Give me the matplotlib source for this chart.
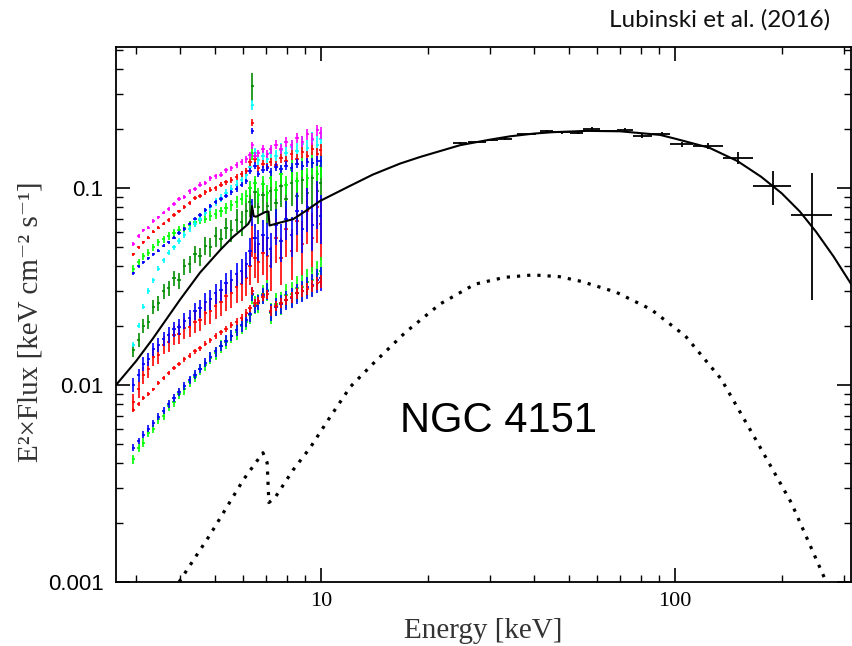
import matplotlib.pyplot as plt
import numpy as np
from matplotlib.ticker import LogLocator, NullFormatter

# energy grid of the low-energy (XMM / Suzaku) spectra, keV
e_soft = [2.95, 3.05, 3.15, 3.25, 3.36, 3.47, 3.59, 3.71, 3.84, 3.97,
          4.11, 4.25, 4.40, 4.55, 4.71, 4.87, 5.04, 5.21, 5.39, 5.58,
          5.77, 5.97, 6.15, 6.30, 6.40, 6.50, 6.65, 6.85, 7.05, 7.20,
          7.45, 7.70, 7.95, 8.25, 8.55, 8.85, 9.15, 9.45, 9.75, 9.98]
# how much the error bars grow with energy (counts drop off)
err_growth = [1.0, 1.0, 1.0, 1.0, 1.0, 1.05, 1.05, 1.1, 1.1, 1.15,
              1.2, 1.2, 1.25, 1.3, 1.35, 1.4, 1.45, 1.5, 1.55, 1.6,
              1.7, 1.8, 1.9, 2.0, 2.0, 2.1, 2.2, 2.3, 2.4, 2.5,
              2.6, 2.7, 2.8, 2.9, 3.0, 3.1, 3.2, 3.3, 3.4, 3.5]

# E^2 x flux of each spectrum on that grid
magenta_f = [0.052, 0.057, 0.061, 0.063, 0.068, 0.071, 0.075, 0.078, 0.083, 0.088,
             0.090, 0.096, 0.099, 0.104, 0.106, 0.112, 0.115, 0.117, 0.123, 0.126,
             0.131, 0.136, 0.140, 0.147, 0.165, 0.146, 0.150, 0.158, 0.149, 0.157,
             0.166, 0.158, 0.172, 0.165, 0.180, 0.172, 0.188, 0.178, 0.196, 0.190]
red_hi_f = [0.046, 0.050, 0.053, 0.056, 0.060, 0.063, 0.066, 0.069, 0.073, 0.076,
            0.080, 0.084, 0.089, 0.091, 0.095, 0.098, 0.100, 0.104, 0.107, 0.110,
            0.114, 0.118, 0.122, 0.135, 0.215, 0.140, 0.126, 0.133, 0.128, 0.136,
            0.131, 0.142, 0.137, 0.148, 0.140, 0.152, 0.145, 0.158, 0.149, 0.156]
blue_hi_f = [0.037, 0.040, 0.042, 0.044, 0.046, 0.048, 0.051, 0.053, 0.056, 0.059,
             0.062, 0.066, 0.070, 0.073, 0.077, 0.081, 0.085, 0.088, 0.091, 0.095,
             0.099, 0.104, 0.108, 0.122, 0.195, 0.130, 0.118, 0.124, 0.127, 0.121,
             0.128, 0.125, 0.130, 0.127, 0.133, 0.130, 0.135, 0.134, 0.137, 0.137]
cyan_f = [0.016, 0.020, 0.025, 0.030, 0.034, 0.039, 0.043, 0.047, 0.050, 0.054,
          0.058, 0.062, 0.066, 0.070, 0.075, 0.080, 0.085, 0.089, 0.094, 0.099,
          0.104, 0.110, 0.116, 0.128, 0.265, 0.150, 0.138, 0.146, 0.140, 0.150,
          0.145, 0.156, 0.150, 0.162, 0.155, 0.168, 0.160, 0.175, 0.166, 0.178]
lime_hi_f = [0.039, 0.042, 0.045, 0.047, 0.050, 0.053, 0.055, 0.057, 0.059, 0.061,
             0.063, 0.065, 0.067, 0.069, 0.070, 0.072, 0.074, 0.076, 0.079, 0.082,
             0.085, 0.088, 0.091, 0.100, 0.150, 0.106, 0.092, 0.105, 0.094, 0.112,
             0.098, 0.118, 0.104, 0.124, 0.108, 0.130, 0.112, 0.134, 0.118, 0.130]
dgreen_f = [0.015, 0.017, 0.020, 0.021, 0.025, 0.026, 0.030, 0.031, 0.035, 0.034,
            0.040, 0.041, 0.046, 0.045, 0.051, 0.050, 0.057, 0.055, 0.063, 0.061,
            0.069, 0.067, 0.076, 0.085, 0.330, 0.095, 0.080, 0.092, 0.081, 0.096,
            0.084, 0.102, 0.088, 0.106, 0.091, 0.110, 0.094, 0.112, 0.097, 0.106]
blue_mid_f = [0.0100, 0.0112, 0.0128, 0.0135, 0.0152, 0.0160, 0.0172, 0.0180, 0.0192, 0.0198,
              0.0212, 0.0220, 0.0238, 0.0245, 0.0265, 0.0272, 0.0292, 0.0305, 0.0330, 0.0340,
              0.0368, 0.0380, 0.0410, 0.0480, 0.0760, 0.0560, 0.0520, 0.0580, 0.0560, 0.0490,
              0.0650, 0.0540, 0.0700, 0.0580, 0.0760, 0.0620, 0.0800, 0.0650, 0.0850, 0.0720]
red_mid_f = [0.0082, 0.0095, 0.0112, 0.0120, 0.0138, 0.0142, 0.0160, 0.0165, 0.0180, 0.0182,
             0.0195, 0.0198, 0.0210, 0.0215, 0.0232, 0.0238, 0.0252, 0.0265, 0.0282, 0.0292,
             0.0315, 0.0325, 0.0350, 0.0400, 0.0560, 0.0440, 0.0420, 0.0470, 0.0450, 0.0400,
             0.0560, 0.0440, 0.0620, 0.0480, 0.0680, 0.0520, 0.0760, 0.0560, 0.0800, 0.0660]
red_lo_f = [0.0075, 0.0080, 0.0086, 0.0090, 0.0095, 0.0102, 0.0108, 0.0115, 0.0122, 0.0128,
            0.0135, 0.0141, 0.0148, 0.0154, 0.0162, 0.0169, 0.0177, 0.0185, 0.0193, 0.0201,
            0.0210, 0.0220, 0.0232, 0.0245, 0.0300, 0.0262, 0.0268, 0.0280, 0.0290, 0.0238,
            0.0252, 0.0262, 0.0270, 0.0280, 0.0292, 0.0300, 0.0308, 0.0318, 0.0328, 0.0335]
blue_lo_f = [0.0048, 0.0052, 0.0056, 0.0060, 0.0064, 0.0069, 0.0074, 0.0080, 0.0086, 0.0092,
             0.0099, 0.0106, 0.0113, 0.0121, 0.0130, 0.0139, 0.0148, 0.0158, 0.0168, 0.0178,
             0.0190, 0.0201, 0.0213, 0.0228, 0.0290, 0.0252, 0.0262, 0.0285, 0.0300, 0.0235,
             0.0250, 0.0258, 0.0270, 0.0278, 0.0292, 0.0300, 0.0315, 0.0322, 0.0340, 0.0350]
lime_lo_f = [0.0042, 0.0048, 0.0051, 0.0057, 0.0060, 0.0067, 0.0070, 0.0078, 0.0082, 0.0090,
             0.0095, 0.0104, 0.0110, 0.0120, 0.0126, 0.0137, 0.0145, 0.0157, 0.0165, 0.0177,
             0.0186, 0.0200, 0.0210, 0.0226, 0.0285, 0.0255, 0.0260, 0.0290, 0.0305, 0.0232,
             0.0258, 0.0262, 0.0285, 0.0290, 0.0310, 0.0315, 0.0335, 0.0340, 0.0365, 0.0380]

# INTEGRAL/ISGRI points: centre, bin low, bin high, value, error
isgri_e = [24.7, 27.6, 30.4, 33.0, 38.0, 43.5, 48.0, 53.2, 58.3, 64.7, 72.3, 80.7, 91.9, 104.6, 124, 150.6, 189, 244]
isgri_lo = [23.6, 26.0, 29.4, 31.6, 35.8, 41.6, 45.2, 50.5, 55.0, 61.4, 68.5, 76.0, 86.1, 96.8, 112.4, 136.6, 166, 212.6]
isgri_hi = [25.9, 29.2, 31.6, 34.6, 40.5, 45.2, 50.5, 55.0, 61.4, 68.5, 76.0, 86.1, 96.8, 112.4, 136.6, 166, 212.6, 277.5]
isgri_f = [0.169, 0.172, 0.175, 0.178, 0.187, 0.194, 0.192, 0.190, 0.200, 0.195, 0.198, 0.183, 0.188, 0.167, 0.164, 0.142, 0.102, 0.073]
isgri_err = [0.002, 0.002, 0.002, 0.002, 0.002, 0.003, 0.003, 0.003, 0.003, 0.003, 0.004, 0.004, 0.005, 0.005, 0.006, 0.010, 0.020, 0.046]

# total model (solid)
model_e = [2.635, 3.0, 3.34, 4.0, 4.55, 5.19, 5.64, 6.0, 6.22, 6.32,
           6.38, 6.45, 6.55, 6.95, 7.1, 7.15, 7.6, 8.34, 9.0, 9.94,
           12.0, 14.0, 16.7, 19.1, 24.7, 30.0, 34.2, 40.0, 45.0, 56.4,
           70.0, 90.7, 100, 125, 150, 175, 200, 225, 250, 280, 316]
model_f = [0.0100, 0.0132, 0.0171, 0.0272, 0.0372, 0.0485, 0.0565, 0.0620, 0.0656, 0.0690,
           0.0810, 0.0720, 0.0715, 0.0755, 0.0760, 0.0645, 0.0665, 0.0695, 0.0760, 0.0860,
           0.102, 0.117, 0.133, 0.144, 0.165, 0.176, 0.183, 0.189, 0.192, 0.195,
           0.194, 0.186, 0.178, 0.160, 0.137, 0.114, 0.094, 0.076, 0.060, 0.045, 0.032]

# reflection component (dotted)
refl_e = [3.97, 4.85, 6.03, 6.85, 7.04, 7.12, 7.41, 8.34, 9.31, 10.5, 12.1, 14.0, 17.3,
          21.7, 27.2, 33.0, 39.7, 47.0, 54.2, 68.1, 85.5, 107, 135, 169, 213, 264]
refl_f = [0.00100, 0.00173, 0.00330, 0.00453, 0.00403, 0.00253, 0.00268, 0.00371, 0.00480,
          0.0067, 0.0098, 0.0128, 0.0185, 0.0258, 0.0325, 0.0352, 0.0362, 0.0355, 0.0336,
          0.0296, 0.0242, 0.0177, 0.0107, 0.00528, 0.00252, 0.00105]

serif = ['Liberation Serif', 'DejaVu Serif']
sans = ['Liberation Sans', 'DejaVu Sans']

fig = plt.figure(figsize=(8.52, 6.46), dpi=100)
ax = fig.add_axes([0.1362, 0.0991, 0.8627, 0.8282])
ax.set_xscale('log')
ax.set_yscale('log')
ax.set_xlim(2.635, 314)
ax.set_ylim(0.001, 0.52)

# (flux, colour, relative error at 3 keV) in drawing order
spectra = [
    (dgreen_f, '#008c00', 0.08),
    (lime_hi_f, '#00ff00', 0.04),
    (cyan_f, '#00ffff', 0.03),
    (red_mid_f, '#ff0000', 0.10),
    (blue_mid_f, '#0000ff', 0.08),
    (red_hi_f, '#ff0000', 0.02),
    (blue_hi_f, '#0000ff', 0.018),
    (magenta_f, '#ff00ff', 0.02),
    (lime_lo_f, '#00ff00', 0.05),
    (blue_lo_f, '#0000ff', 0.04),
    (red_lo_f, '#ff0000', 0.022),
]
e = np.array(e_soft)
grow = np.array(err_growth)
for flux, col, frac in spectra:
    f = np.array(flux)
    ax.errorbar(e, f, xerr=e * 0.011, yerr=f * frac * grow, fmt='none',
                ecolor=col, elinewidth=1.2, capsize=0, zorder=2)

ax.plot(refl_e, refl_f, color='black', lw=2.3, linestyle=(0, (1, 2.2)), zorder=3)
ax.plot(model_e, model_f, color='black', lw=1.5, zorder=4)

ie = np.array(isgri_e)
ax.errorbar(ie, isgri_f, xerr=[ie - np.array(isgri_lo), np.array(isgri_hi) - ie],
            yerr=isgri_err, fmt='none', ecolor='black', elinewidth=1.3, capsize=0, zorder=4)

# axes / ticks
for s in ax.spines.values():
    s.set_linewidth(1.3)
ax.tick_params(which='both', direction='in', top=True, right=True, colors='black')
ax.tick_params(which='major', length=10, width=1.2, pad=7)
ax.tick_params(which='minor', length=5, width=1.0)
ax.tick_params(axis='y', which='major', pad=9)
ax.set_xticks([10, 100])
ax.set_xticklabels(['10', '100'], family=serif, fontsize=16)
ax.xaxis.set_minor_locator(LogLocator(base=10, subs=range(2, 10)))
ax.xaxis.set_minor_formatter(NullFormatter())
ax.set_yticks([0.001, 0.01, 0.1])
ax.set_yticklabels(['0.001', '0.01', '0.1'], family=sans, fontsize=16)
ax.yaxis.set_minor_locator(LogLocator(base=10, subs=range(2, 10)))
ax.yaxis.set_minor_formatter(NullFormatter())

fig.text(483 / 852, 1 - 631 / 646, 'Energy [keV]', family=serif, fontsize=21,
         color='#333333', ha='center', va='center')
fig.text(31 / 852, 1 - 322 / 646, 'E²×Flux [keV cm⁻² s⁻¹]', family=serif, fontsize=21,
         color='#333333', ha='center', va='center', rotation=90)
fig.text(498 / 852, 1 - 421 / 646, 'NGC 4151', family=sans, fontsize=30,
         ha='center', va='center')
fig.text(830 / 852, 1 - 20 / 646, 'Lubinski et al. (2016)', family=['Lato', 'DejaVu Sans'],
         fontsize=17.5, color='#111111', ha='right', va='center')

fig.savefig('out.png', dpi=100)
